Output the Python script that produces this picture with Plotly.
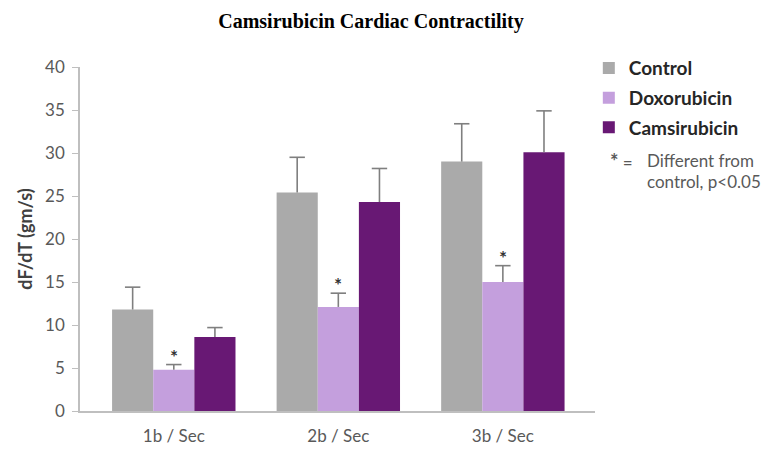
import plotly.graph_objects as go

categories = ["1b / Sec", "2b / Sec", "3b / Sec"]

control = [11.8, 25.4, 29.0]
control_err = [2.6, 4.1, 4.4]

doxorubicin = [4.8, 12.1, 15.0]
doxorubicin_err = [0.6, 1.6, 1.9]

camsirubicin = [8.6, 24.3, 30.1]
camsirubicin_err = [1.1, 3.9, 4.8]

significant = [True, True, True]

series = [
    ('Control', control, control_err, '#aaaaaa'),
    ('Doxorubicin', doxorubicin, doxorubicin_err, '#c49fdd'),
    ('Camsirubicin', camsirubicin, camsirubicin_err, '#681874'),
]

fig = go.Figure()

for i, (name, vals, errs, color) in enumerate(series):
    # bar with only the upward stem of the error bar
    fig.add_trace(go.Bar(x=categories, y=vals, name=name, legendgroup=name,
                         offsetgroup=str(i),
                         marker=dict(color=color, line=dict(width=0)),
                         error_y=dict(type='data', array=errs, arrayminus=[0] * len(errs),
                                      symmetric=False, color='#7f7f7f', thickness=1.6, width=0)))
    # cap at the top of the error bar
    fig.add_trace(go.Scatter(x=categories, y=[v + e for v, e in zip(vals, errs)],
                             mode='markers', offsetgroup=str(i), showlegend=False,
                             legendgroup=name, hoverinfo='skip',
                             marker=dict(symbol='line-ew', size=11,
                                         line=dict(color='#7f7f7f', width=1.6))))

# significance stars above the doxorubicin bars
for cat, v, e, s in zip(categories, doxorubicin, doxorubicin_err, significant):
    if s:
        fig.add_annotation(x=cat, y=v + e, text='<b>*</b>', showarrow=False, yanchor='bottom',
                           yshift=-5, font=dict(size=19, color='#333333', family='Lato'))

# footnote under the legend
note_font = dict(size=17, color='#595959', family='Lato')
fig.add_annotation(xref='paper', yref='paper', x=1.025, y=0.727, xanchor='left', yanchor='middle',
                   showarrow=False, text='<b><span style="font-size:20px">*</span></b> =',
                   font=note_font)
fig.add_annotation(xref='paper', yref='paper', x=1.097, y=0.727, xanchor='left', yanchor='middle',
                   showarrow=False, text='Different from', font=note_font)
fig.add_annotation(xref='paper', yref='paper', x=1.097, y=0.666, xanchor='left', yanchor='middle',
                   showarrow=False, text='control, p<0.05', font=note_font)

fig.update_layout(
    width=769, height=450,
    margin=dict(l=72, r=182, t=59, b=47),
    paper_bgcolor='white', plot_bgcolor='white',
    title=dict(text='<b>Camsirubicin Cardiac Contractility</b>', x=0.472, xanchor='center',
               y=0.971, yanchor='middle',
               font=dict(family='Liberation Serif', size=20, color='black')),
    barmode='group', bargap=0.25, bargroupgap=0,
    scattermode='group', scattergap=0.25,
    font=dict(family='Lato', color='#595959'),
    legend=dict(x=0.988, y=1.052, xanchor='left', yanchor='top',
                font=dict(size=19, color='#262626', family='Lato', weight='bold'),
                itemwidth=30, tracegroupgap=2, bgcolor='rgba(0,0,0,0)'),
    showlegend=True,
)

fig.update_xaxes(range=[-0.57, 2.56], showline=True, linecolor='#bfbfbf', linewidth=1.5,
                 ticks='', tickfont=dict(size=17, color='#595959'), showgrid=False,
                 ticklabelstandoff=9)
fig.update_yaxes(range=[0, 40], dtick=5, showline=True, linecolor='#bfbfbf', linewidth=1.5,
                 ticks='outside', tickcolor='#bfbfbf', ticklen=6, showgrid=False, zeroline=False,
                 tickfont=dict(size=17, color='#595959'), ticklabelstandoff=4,
                 title=dict(text='<b>dF/dT (gm/s)</b>', standoff=8,
                            font=dict(size=18, color='#404040')))

fig.write_html("out.html")
